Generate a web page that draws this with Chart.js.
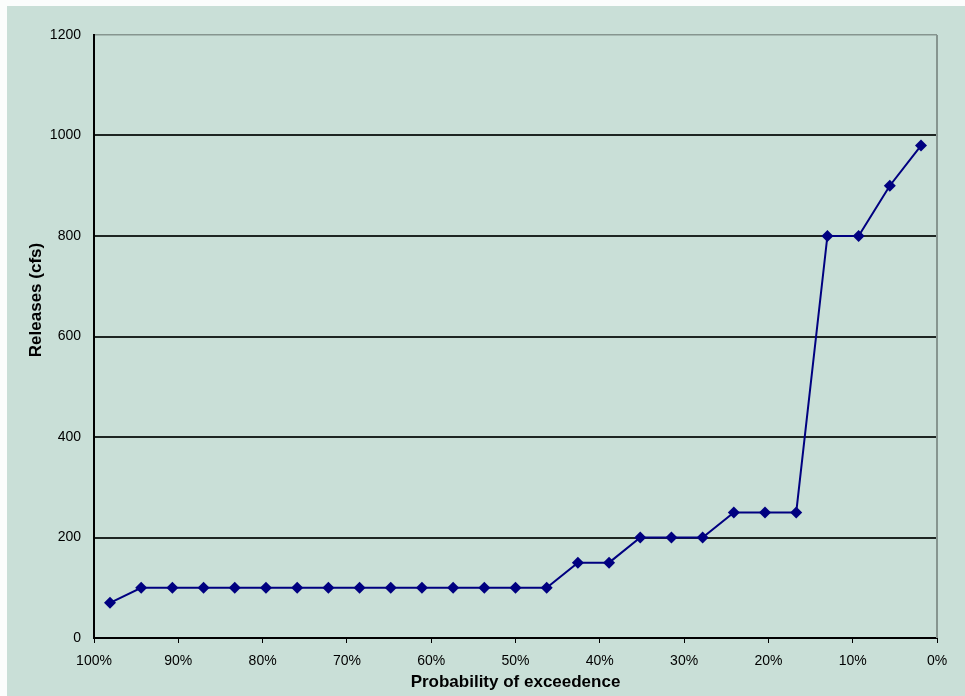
<!DOCTYPE html>
<html>
<head>
<meta charset="utf-8">
<script src="https://cdn.jsdelivr.net/npm/chart.js@4"></script>
<style>
  html, body { margin: 0; padding: 0; background: #fff; }
</style>
</head>
<body>
<canvas id="releaseChart" width="965" height="696"></canvas>
<script>
// probability of exceedence (%) and releases (cfs)
const exceedence = [98.1, 94.4, 90.7, 87.0, 83.3, 79.6, 75.9, 72.2, 68.5, 64.8, 61.1, 57.4, 53.7, 50.0,
   46.3, 42.6, 38.9, 35.2, 31.5, 27.8, 24.1, 20.4, 16.7, 13.0, 9.3, 5.6, 1.9]
const releases = [70, 100, 100, 100, 100, 100, 100, 100, 100, 100, 100, 100, 100, 100,
   100, 150, 150, 200, 200, 200, 250, 250, 250, 800, 800, 900, 980]
const xTickLabels = ["0%", "10%", "20%", "30%", "40%", "50%", "60%", "70%", "80%", "90%", "100%"]
const yTickLabels = ["0", "200", "400", "600", "800", "1000", "1200"]

const xTitle = "Probability of exceedence"
const yTitle = "Releases (cfs)"

const bgColor = "#c9dfd7"
const lineColor = "#000080"
const font = "'Liberation Sans', Arial, sans-serif"

const points = exceedence.map((p, i) => ({ x: p, y: releases[i] }))

const framePlugin = {
   id: "frame",
   beforeDraw(chart) {
      const ctx = chart.ctx
      ctx.save()
      ctx.fillStyle = "#fbfdfc"
      ctx.fillRect(0, 0, chart.width, chart.height)
      ctx.fillStyle = bgColor
      ctx.fillRect(7, 6, chart.width - 7, chart.height - 6)
      ctx.restore()
   },
   afterDraw(chart) {
      const ctx = chart.ctx
      const a = chart.chartArea
      ctx.save()
      // right border
      ctx.strokeStyle = "#86958f"
      ctx.lineWidth = 2
      ctx.beginPath()
      ctx.moveTo(a.right, a.top)
      ctx.lineTo(a.right, a.bottom)
      ctx.stroke()
      // y axis title
      ctx.fillStyle = "#000"
      ctx.font = "bold 17px " + font
      ctx.textAlign = "center"
      ctx.textBaseline = "middle"
      ctx.translate(36, 300)
      ctx.rotate(-Math.PI / 2)
      ctx.fillText(yTitle, 0, 0)
      ctx.restore()
   },
}

const ctxRelease = document.getElementById("releaseChart").getContext("2d")
const releaseChart = new Chart(ctxRelease, {
   type: "scatter",
   data: {
      datasets: [
         {
            label: yTitle,
            data: points,
            showLine: true,
            borderColor: lineColor,
            borderWidth: 2,
            backgroundColor: lineColor,
            pointStyle: "rectRot",
            pointRadius: 6,
            pointBorderWidth: 0,
            tension: 0,
         },
      ],
   },
   options: {
      responsive: false,
      devicePixelRatio: 1,
      animation: false,
      events: [],
      layout: { padding: { left: 0, top: 35, right: 28, bottom: 3 } },
      plugins: {
         legend: { display: false },
         tooltip: { enabled: false },
      },
      scales: {
         x: {
            type: "linear",
            reverse: true,
            min: 0,
            max: 100,
            afterFit: scale => { scale.height = 55 },
            afterBuildTicks: scale => {
               scale.ticks = xTickLabels.map(t => ({ value: parseFloat(t) }))
            },
            ticks: {
               color: "#000",
               font: { family: font, size: 14 },
               padding: 10,
               maxRotation: 0,
               autoSkip: false,
               callback: v => xTickLabels.find(t => parseFloat(t) === v),
            },
            grid: {
               drawOnChartArea: false,
               drawTicks: true,
               tickLength: 5,
               color: "#000",
            },
            border: { color: "#000", width: 2 },
            title: {
               display: true,
               text: xTitle,
               color: "#000",
               font: { family: font, size: 17, weight: "bold" },
               padding: 0,
            },
         },
         y: {
            type: "linear",
            min: 0,
            max: 1200,
            afterFit: scale => { scale.width = 94 },
            afterBuildTicks: scale => {
               scale.ticks = yTickLabels.map(t => ({ value: Number(t) }))
            },
            ticks: {
               color: "#000",
               font: { family: font, size: 14 },
               padding: 13,
               callback: v => String(v),
            },
            grid: {
               drawTicks: false,
               color: c => (c.tick && c.tick.value === 1200 ? "#86958f" : "#1e2522"),
               lineWidth: c => (c.tick && c.tick.value === 1200 ? 1.5 : 2),
            },
            border: { color: "#000", width: 2 },
         },
      },
   },
   plugins: [framePlugin],
})
</script>
</body>
</html>
